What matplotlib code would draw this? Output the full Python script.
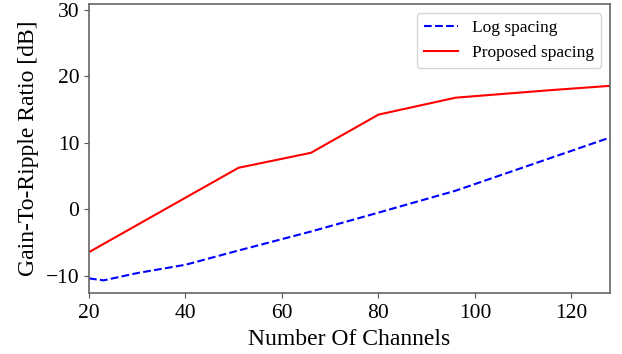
import matplotlib
matplotlib.use("Agg")
import matplotlib.pyplot as plt

log_x = [20, 23, 30, 40, 51, 66, 80, 96, 116, 128]
log_y = [-10.4, -10.7, -9.6, -8.35, -6.2, -3.35, -0.5, 2.8, 7.8, 10.8]

prop_x = [20, 51, 66, 80, 96, 116, 128]
prop_y = [-6.45, 6.25, 8.5, 14.25, 16.8, 17.95, 18.58]

xlabel = "Number Of Channels"
ylabel = "Gain-To-Ripple Ratio [dB]"

plt.rcParams['font.family'] = ['Liberation Serif', 'DejaVu Serif']

fig = plt.figure(figsize=(6.22, 3.54), dpi=100)
ax = fig.add_axes([89/622, 1-293/354, (610-89)/622, (293-4)/354])
ax.plot(log_x, log_y, '--', color='blue', lw=1.5, label='Log spacing')
ax.plot(prop_x, prop_y, '-', color='red', lw=1.5, label='Proposed spacing')
ax.set_xlim(20, 128)
ax.set_ylim(-12.6, 30.9)
ax.set_xticks([20, 40, 60, 80, 100, 120])
ax.set_yticks([-10, 0, 10, 20, 30])
ax.tick_params(labelsize=15.5, color='#555555')
ax.tick_params(axis='x', pad=4.5)
for s in ax.spines.values():
    s.set_color('#666666')
    s.set_linewidth(1.2)
ax.set_xlabel(xlabel, fontsize=17, labelpad=4)
ax.set_ylabel(ylabel, fontsize=17, labelpad=5)
ax.legend(loc='upper right', fontsize=12.5)
fig.savefig('out.png', dpi=100)
